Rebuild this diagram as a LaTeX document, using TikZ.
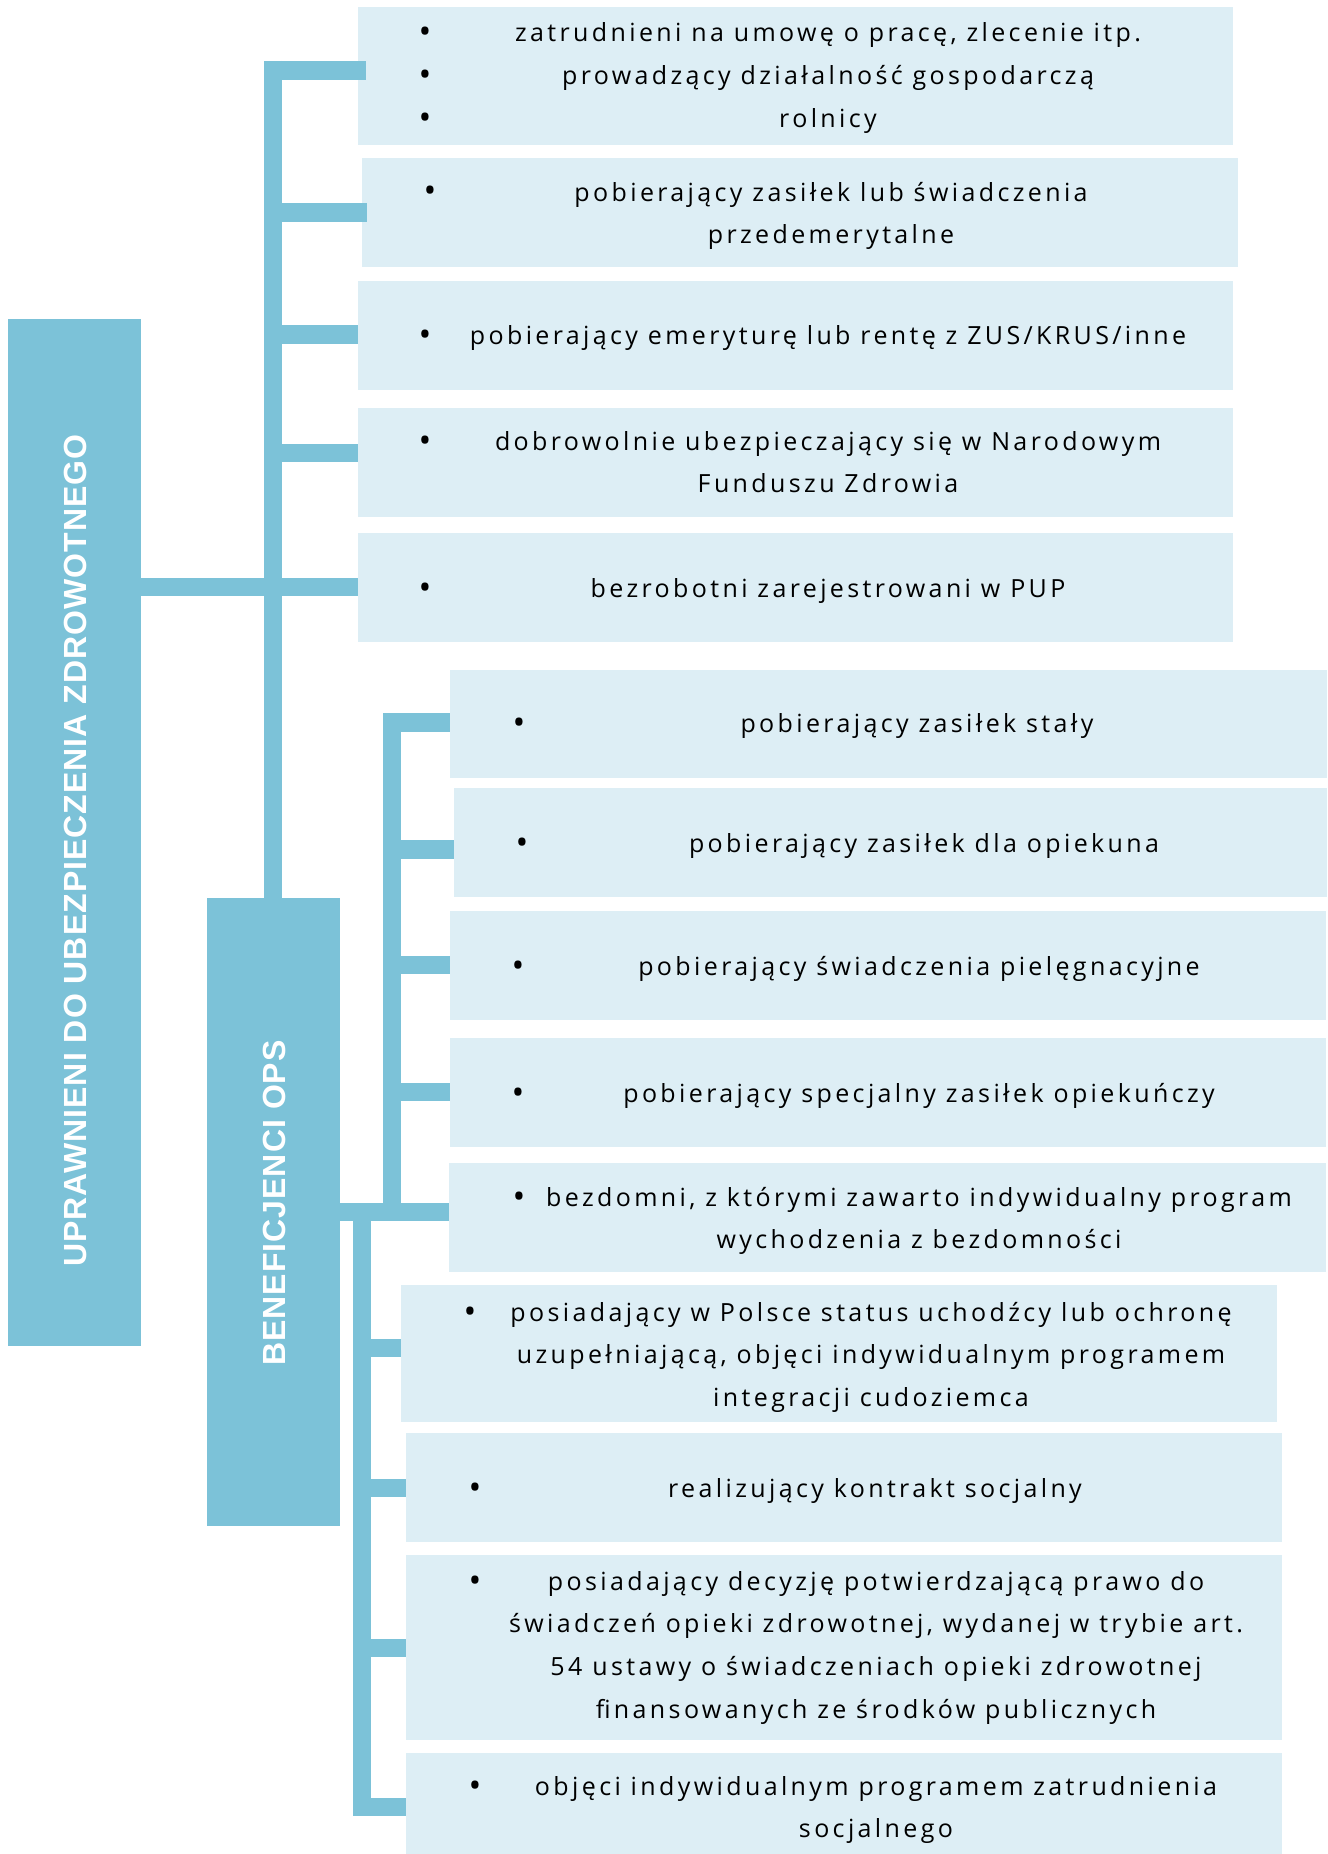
\documentclass[tikz,border=0pt]{standalone}
\usepackage{fontspec}
\setmainfont{Open Sans}[LetterSpace=13.5]
\newfontfamily\bulfont{Open Sans}
\newfontfamily\headfont{Liberation Sans}[LetterSpace=3.2]
\definecolor{barc}{HTML}{7CC2D8}
\definecolor{boxc}{HTML}{DDEEF5}
\tikzset{
  lbox/.style={fill=boxc, draw=none, inner sep=0pt, outer sep=0pt},
  dbox/.style={fill=barc, draw=none, inner sep=0pt, outer sep=0pt},
  bar/.style={draw=barc, line width=18.5pt, line cap=butt},
  txt/.style={inner sep=0pt, anchor=base, align=center, text=black, font=\fontsize{25}{42.7}\selectfont},
  bul/.style={inner sep=0pt, anchor=base, yshift=-2pt, text=black, font=\bulfont\fontsize{34}{42.7}\selectfont},
  head/.style={rotate=90, text=white, font=\headfont\bfseries\fontsize{32}{38}\selectfont, inner sep=0pt}
}
\begin{document}
\begin{tikzpicture}[x=1pt,y=-1pt]
\useasboundingbox (0,0) rectangle (1327,1854);
% ---------- boxes ----------
\node[dbox, minimum width=133pt, minimum height=1027pt] (root) at (74.5,832.5) {};
\node[dbox, minimum width=133pt, minimum height=628pt] (ops) at (273.5,1212) {};
\node[lbox, minimum width=875pt, minimum height=138pt] (b1) at (795.5,76) {};
\node[lbox, minimum width=876pt, minimum height=109pt] (b2) at (800,212.5) {};
\node[lbox, minimum width=875pt, minimum height=109pt] (b3) at (795.5,335.5) {};
\node[lbox, minimum width=875pt, minimum height=109pt] (b4) at (795.5,462.5) {};
\node[lbox, minimum width=875pt, minimum height=109pt] (b5) at (795.5,587.5) {};
\node[lbox, minimum width=877pt, minimum height=108pt] (bA) at (888.5,724) {};
\node[lbox, minimum width=873pt, minimum height=109pt] (bB) at (890.5,842.5) {};
\node[lbox, minimum width=876pt, minimum height=109pt] (bC) at (888,965.5) {};
\node[lbox, minimum width=876pt, minimum height=109pt] (bD) at (888,1092.5) {};
\node[lbox, minimum width=877pt, minimum height=109pt] (bE) at (887.5,1217.5) {};
\node[lbox, minimum width=876pt, minimum height=137pt] (bF) at (839,1353.5) {};
\node[lbox, minimum width=876pt, minimum height=109pt] (bG) at (844,1487.5) {};
\node[lbox, minimum width=876pt, minimum height=185pt] (bH) at (844,1647.5) {};
\node[lbox, minimum width=876pt, minimum height=101pt] (bI) at (844,1803.5) {};
% ---------- connectors: main tree ----------
\coordinate (m0) at (273,61);
\coordinate (m1) at (264,70.5);
\coordinate (m2) at (273,212.5);
\coordinate (m3) at (273,334.5);
\coordinate (m4) at (273,453);
\coordinate (m5) at (273,587);
\draw[bar] (m0) -- (m0 |- ops.north);
\draw[bar] (m1) -- ([xshift=8pt]m1 -| b1.west);
\draw[bar] (m2) -- ([xshift=5pt]m2 -| b2.west);
\draw[bar] (m3) -- (m3 -| b3.west);
\draw[bar] (m4) -- (m4 -| b4.west);
\draw[bar] (root.east |- m5) -- (m5 -| b5.west);
% ---------- connectors: OPS upper ----------
\coordinate (u0) at (392,713);
\coordinate (uA) at (383,722.5);
\coordinate (uB) at (392,849.5);
\coordinate (uC) at (392,965);
\coordinate (uD) at (392,1092);
\coordinate (uE) at (392,1212);
\coordinate (u9) at (392,1221);
\draw[bar] (u0) -- (u9);
\draw[bar] (uA) -- (uA -| bA.west);
\draw[bar] (uB) -- (uB -| bB.west);
\draw[bar] (uC) -- (uC -| bC.west);
\draw[bar] (uD) -- (uD -| bD.west);
\draw[bar] (ops.east |- uE) -- (uE -| bE.west);
% ---------- connectors: OPS lower ----------
\coordinate (l0) at (362,1212);
\coordinate (lF) at (362,1348);
\coordinate (lG) at (362,1488);
\coordinate (lH) at (362,1648);
\coordinate (lI) at (353,1807);
\coordinate (l9) at (362,1816);
\draw[bar] (l0) -- (l9);
\draw[bar] (lF) -- (lF -| bF.west);
\draw[bar] (lG) -- (lG -| bG.west);
\draw[bar] (lH) -- (lH -| bH.west);
\draw[bar] (lI) -- (lI -| bI.west);
% ---------- vertical titles ----------
\node[head] (troot) at (75,850.5) {UPRAWNIENI DO UBEZPIECZENIA ZDROWOTNEGO};
\node[head] (tops) at (274.5,1203) {BENEFICJENCI OPS};
% ---------- texts (y = baseline of the last line) ----------
\node[bul] (u11) at (425,42) {•};
\node[bul] (u12) at (425,84.7) {•};
\node[bul] (u13) at (425,127.4) {•};
\node[txt] (t1) at (828,127.4) {zatrudnieni na umowę o pracę, zlecenie itp.\\prowadzący działalność gospodarczą\\rolnicy};
\node[bul] (u2) at (430,201) {•};
\node[txt] (t2) at (831,243.7) {pobierający zasiłek lub świadczenia\\przedemerytalne};
\node[bul] (u3) at (425,344) {•};
\node[txt] (t3) at (828,344) {pobierający emeryturę lub rentę z ZUS/KRUS/inne};
\node[bul] (u4) at (425,450) {•};
\node[txt] (t4) at (828,492.7) {dobrowolnie ubezpieczający się w Narodowym\\Funduszu Zdrowia};
\node[bul] (u5) at (425,597) {•};
\node[txt] (t5) at (828,597) {bezrobotni zarejestrowani w PUP};
\node[bul] (uuA) at (519,732) {•};
\node[txt] (tA) at (917,732) {pobierający zasiłek stały};
\node[bul] (uuB) at (522,852) {•};
\node[txt] (tB) at (924,852) {pobierający zasiłek dla opiekuna};
\node[bul] (uuC) at (518,975) {•};
\node[txt] (tC) at (919,975) {pobierający świadczenia pielęgnacyjne};
\node[bul] (uuD) at (518,1102) {•};
\node[txt] (tD) at (919,1102) {pobierający specjalny zasiłek opiekuńczy};
\node[bul] (uuE) at (519,1206) {•};
\node[txt] (tE) at (919,1248.7) {bezdomni, z którymi zawarto indywidualny program\\wychodzenia z bezdomności};
\node[bul] (uuF) at (470,1321) {•};
\node[txt] (tF) at (871,1406.4) {posiadający w Polsce status uchodźcy lub ochronę\\uzupełniającą, objęci indywidualnym programem\\integracji cudoziemca};
\node[bul] (uuG) at (475,1497) {•};
\node[txt] (tG) at (875,1497) {realizujący kontrakt socjalny};
\node[bul] (uuH) at (475,1590) {•};
\node[txt] (tH) at (876,1718.1) {posiadający decyzję potwierdzającą prawo do\\świadczeń opieki zdrowotnej, wydanej w trybie art.\\54 ustawy o świadczeniach opieki zdrowotnej\\finansowanych ze środków publicznych};
\node[bul] (uuI) at (475,1795) {•};
\node[txt] (tI) at (876,1837.7) {objęci indywidualnym programem zatrudnienia\\socjalnego};
\end{tikzpicture}
\end{document}
